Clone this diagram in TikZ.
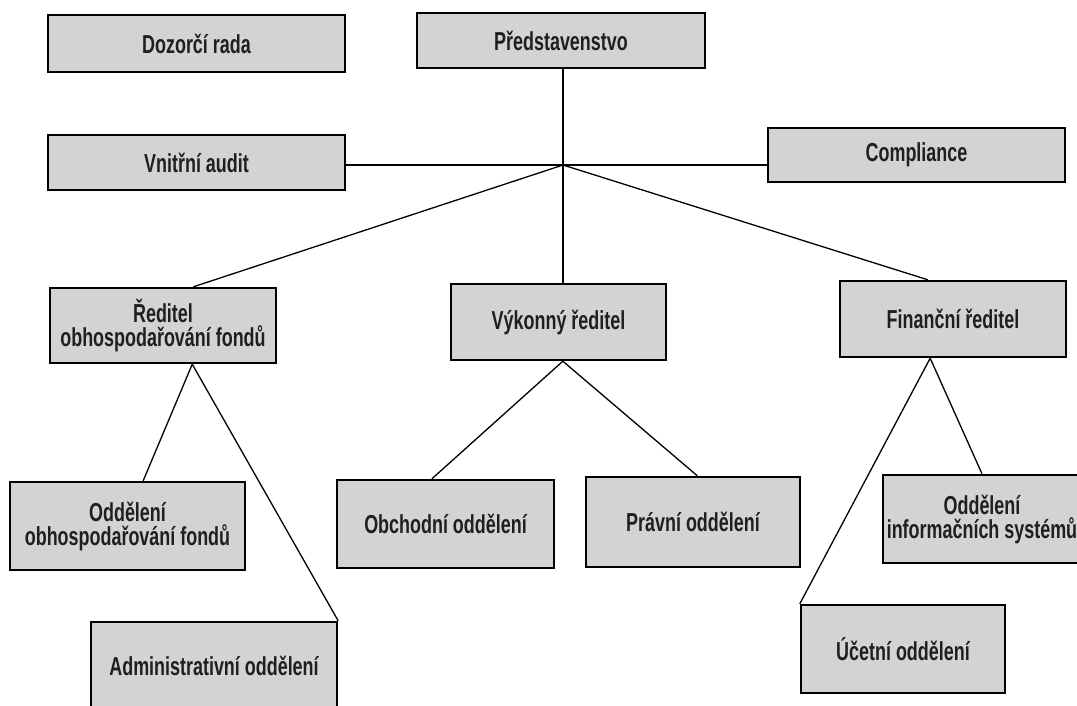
\documentclass[tikz,border=0pt]{standalone}
\usepackage{fontspec}
\setmainfont[FakeStretch=0.69, BoldFont={Liberation Sans Bold}, BoldFeatures={FakeStretch=0.69}]{Liberation Sans}
\usetikzlibrary{calc}
\definecolor{boxgray}{HTML}{D3D3D3}
\begin{document}
\begin{tikzpicture}[x=1pt,y=-1pt,
  box/.style={draw=black, line width=2.4pt, fill=boxgray, align=center,
    inner sep=0pt, font=\fontsize{26}{24}\selectfont\bfseries, text=black!88},
  link/.style={line width=1.3pt, black}]
\useasboundingbox (0,0) rectangle (1077,705);
\clip (0,0) rectangle (1077,705);
% boxes
\node[box, minimum width=297, minimum height=57] (dozorci) at (196.5,43.5) {Dozorčí rada};
\node[box, minimum width=288, minimum height=55] (predst) at (561,40.5) {Představenstvo};
\node[box, minimum width=297, minimum height=55] (vnitrni) at (196.5,162.5) {Vnitřní audit};
\node[box, minimum width=297, minimum height=54] (compl) at (916.5,155) {Compliance};
\node[box, minimum width=226, minimum height=75] (reditel) at (163,325.5) {Ředitel\\obhospodařování fondů};
\node[box, minimum width=215, minimum height=76] (vykonny) at (558.5,322) {Výkonný ředitel};
\node[box, minimum width=226, minimum height=76] (financni) at (953,319) {Finanční ředitel};
\node[box, minimum width=235, minimum height=88] (oddobh) at (127.5,526) {Oddělení\\obhospodařování fondů};
\node[box, minimum width=246, minimum height=88] (admin) at (214,666) {Administrativní oddělení};
\node[box, minimum width=217, minimum height=88] (obchod) at (445.5,524) {Obchodní oddělení};
\node[box, minimum width=214, minimum height=90] (pravni) at (693,522) {Právní oddělení};
\node[box, minimum width=198, minimum height=88] (info) at (982,519) {Oddělení\\informačních systémů};
\node[box, minimum width=204, minimum height=88] (ucetni) at (903,649) {Účetní oddělení};
% hub
\coordinate (hub) at (563,165);
% connectors
\draw[link] (predst.south -| hub) -- (hub) -- (hub |- vykonny.north);
\draw[link] (vnitrni.east |- hub) -- (hub) -- (compl.west |- hub);
\draw[link] (hub) -- ($(reditel.north west)!0.633!(reditel.north east)$);
\draw[link] (hub) -- ($(financni.north west)!0.39!(financni.north east)$);
\draw[link] ($(oddobh.north west)!0.566!(oddobh.north east)$) -- ($(reditel.south west)!0.628!(reditel.south east)$) -- (admin.north east);
\draw[link] ($(obchod.north west)!0.438!(obchod.north east)$) -- ($(vykonny.south west)!0.52!(vykonny.south east)$) -- ($(pravni.north west)!0.52!(pravni.north east)$);
\draw[link] (ucetni.north west) -- ($(financni.south west)!0.40!(financni.south east)$) -- ($(info.north west)!0.5!(info.north east)$);
\end{tikzpicture}
\end{document}
